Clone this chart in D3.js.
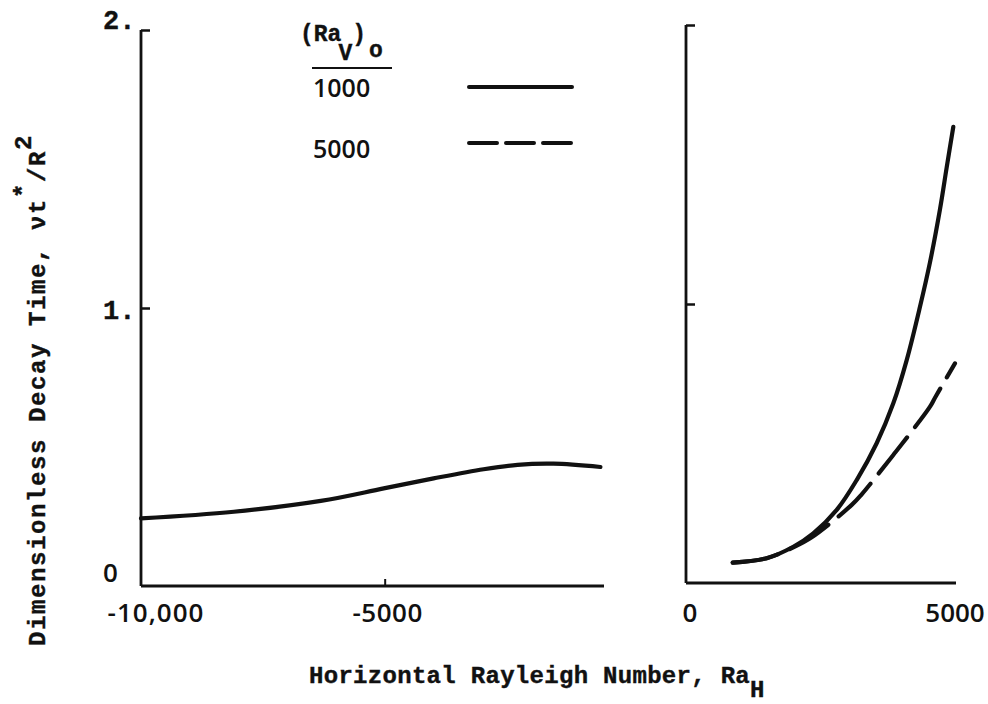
<!DOCTYPE html>
<html><head><meta charset="utf-8">
<script src="https://cdn.jsdelivr.net/npm/d3@7"></script>
<style>
html,body{margin:0;padding:0;background:#fff;}
svg{display:block;}
.mono{font-family:"Liberation Mono","DejaVu Sans Mono",monospace;font-weight:bold;fill:#111;stroke:#111;stroke-width:0.4px;}
.sans{font-family:"Open Sans","Liberation Sans",sans-serif;font-weight:600;fill:#111;}
</style></head>
<body>
<svg id="c" width="988" height="704"></svg>
<script>
// ---- data ----
const leftRa = [-10000, -8094, -6311, -5020, -3996, -2971, -2275, -1537, -574];
const leftTime = [0.243, 0.267, 0.306, 0.351, 0.387, 0.420, 0.436, 0.440, 0.428];
const right1000Ra = [865, 1494, 1987, 2357, 2791, 3161, 3531, 3839, 4087, 4333, 4519, 4704, 4828, 4950];
const right1000Time = [0.073, 0.089, 0.130, 0.178, 0.262, 0.369, 0.501, 0.644, 0.799, 0.990, 1.150, 1.340, 1.490, 1.635];
const right5000Ra = [865, 1494, 1987, 2328, 3069, 3254, 3839, 3994, 4519, 4611, 4981];
const right5000Time = [0.073, 0.089, 0.128, 0.164, 0.280, 0.318, 0.459, 0.497, 0.632, 0.664, 0.787];
const seriesLabels = ["1000", "5000"];
const yTickValues = [0, 1, 2];
const yTickLabels = ["0", "1.", "2."];
const leftXTicks = [-10000, -5000];
const leftXTickLabels = ["-10,000", "-5000"];
const rightXTicks = [0, 5000];
const rightXTickLabels = ["0", "5000"];

const svg = d3.select("#c");
const ink = "#111";

// ---- scales ----
const xL = d3.scaleLinear().domain([-10000, -500]).range([141, 604]);
const yL = d3.scaleLinear().domain([0, 2]).range([586, 30]);
const xR = d3.scaleLinear().domain([0, 5000]).range([686, 956]);
const yR = d3.scaleLinear().domain([0, 2]).range([583, 25]);

// ---- axes ----
function frame(xs, ys, xTickVals, yTickVals) {
  const g = svg.append("g");
  const ya = g.append("g").attr("transform", `translate(${xs.range()[0]},0)`)
    .call(d3.axisLeft(ys).tickValues(yTickVals).tickSize(-9).tickFormat(""));
  ya.select(".domain").remove();
  ya.selectAll("line").attr("stroke", ink).attr("stroke-width", 2.5);
  g.append("line").attr("x1", xs.range()[0]).attr("x2", xs.range()[0])
    .attr("y1", ys(0)).attr("y2", ys(2)).attr("stroke", ink).attr("stroke-width", 2.8);
  const xa = g.append("g").attr("transform", `translate(0,${ys(0)})`)
    .call(d3.axisBottom(xs).tickValues(xTickVals).tickSize(-7).tickFormat(""));
  xa.select(".domain").remove();
  xa.selectAll("line").attr("stroke", ink).attr("stroke-width", 2);
  g.append("line").attr("x1", xs.range()[0]).attr("x2", xs.range()[1])
    .attr("y1", ys(0)).attr("y2", ys(0)).attr("stroke", ink).attr("stroke-width", 2.8);
}
frame(xL, yL, [-5000], [1, 2]);
frame(xR, yR, [], [1, 2]);

// ---- y tick labels (left only) ----
const yLabOff = [-14, 4, -8];
yTickValues.forEach((v, i) => {
  svg.append("text").attr("class", i === 0 ? "sans" : "mono")
    .attr("x", 103).attr("y", yL(v) + yLabOff[i])
    .attr("dominant-baseline", "central")
    .style("font-size", i === 0 ? "26px" : "27px")
    .text(yTickLabels[i]);
});

// ---- x tick labels ----
leftXTicks.forEach((v, i) => {
  svg.append("text").attr("class", "sans").attr("x", xL(v) + (i === 0 ? 15 : 3)).attr("y", 622)
    .attr("text-anchor", "middle").style("font-size", "26px")
    .style("letter-spacing", i === 0 ? "1px" : "0.5px").text(leftXTickLabels[i]);
});
rightXTicks.forEach((v, i) => {
  svg.append("text").attr("class", "sans").attr("x", xR(v) + (i === 0 ? 4 : -1)).attr("y", 622)
    .attr("text-anchor", "middle").style("font-size", "26px").text(rightXTickLabels[i]);
});

// ---- curves ----
function draw(xs, ys, xsArr, ysArr, dashed) {
  const pts = xsArr.map((x, i) => [x, ysArr[i]]);
  svg.append("path").datum(pts)
    .attr("d", d3.line().x(d => xs(d[0])).y(d => ys(d[1])).curve(d3.curveCatmullRom.alpha(0.5)))
    .attr("fill", "none").attr("stroke", ink).attr("stroke-width", 4.2)
    .attr("stroke-linecap", "round")
    .attr("stroke-dasharray", dashed ? "46,13" : null);
}
draw(xL, yL, leftRa, leftTime, false);
draw(xR, yR, right1000Ra, right1000Time, false);
draw(xR, yR, right5000Ra, right5000Time, true);

// ---- legend ----
const lg = svg.append("g");
const hdr = lg.append("text").attr("class", "mono").attr("x", 300).attr("y", 41).style("font-size", "23px");
hdr.append("tspan").text("(Ra");
hdr.append("tspan").attr("dy", 19).attr("dx", -3).text("V");
hdr.append("tspan").attr("dy", -19).text(")");
hdr.append("tspan").attr("dy", 16).attr("dx", 3).text("o");
lg.append("line").attr("x1", 312).attr("x2", 392).attr("y1", 68).attr("y2", 68)
  .attr("stroke", ink).attr("stroke-width", 2.2);
[97, 158].forEach((yy, i) => {
  lg.append("text").attr("class", "sans").attr("x", 313).attr("y", yy)
    .style("font-size", "25px").text(seriesLabels[i]);
});
lg.append("line").attr("x1", 469).attr("x2", 572).attr("y1", 87).attr("y2", 87)
  .attr("stroke", ink).attr("stroke-width", 4).attr("stroke-linecap", "round");
lg.append("line").attr("x1", 469).attr("x2", 572).attr("y1", 143).attr("y2", 143)
  .attr("stroke", ink).attr("stroke-width", 4).attr("stroke-linecap", "round")
  .attr("stroke-dasharray", "28,9");

// ---- axis titles ----
const xt = svg.append("text").attr("class", "mono").attr("x", 309).attr("y", 683)
  .style("font-size", "24px").style("letter-spacing", "0.3px");
xt.append("tspan").text("Horizontal Rayleigh Number, Ra");
xt.append("tspan").attr("dy", 14).text("H");

const yt = svg.append("text").attr("class", "mono")
  .attr("transform", "translate(45,646) rotate(-90)")
  .style("font-size", "24px").style("letter-spacing", "1.6px");
yt.append("tspan").text("Dimensionless Decay Time, \u03bdt");
yt.append("tspan").attr("dy", -14).text("*");
yt.append("tspan").attr("dy", 14).text("/R");
yt.append("tspan").attr("dy", -14).text("2");
</script>
</body></html>
